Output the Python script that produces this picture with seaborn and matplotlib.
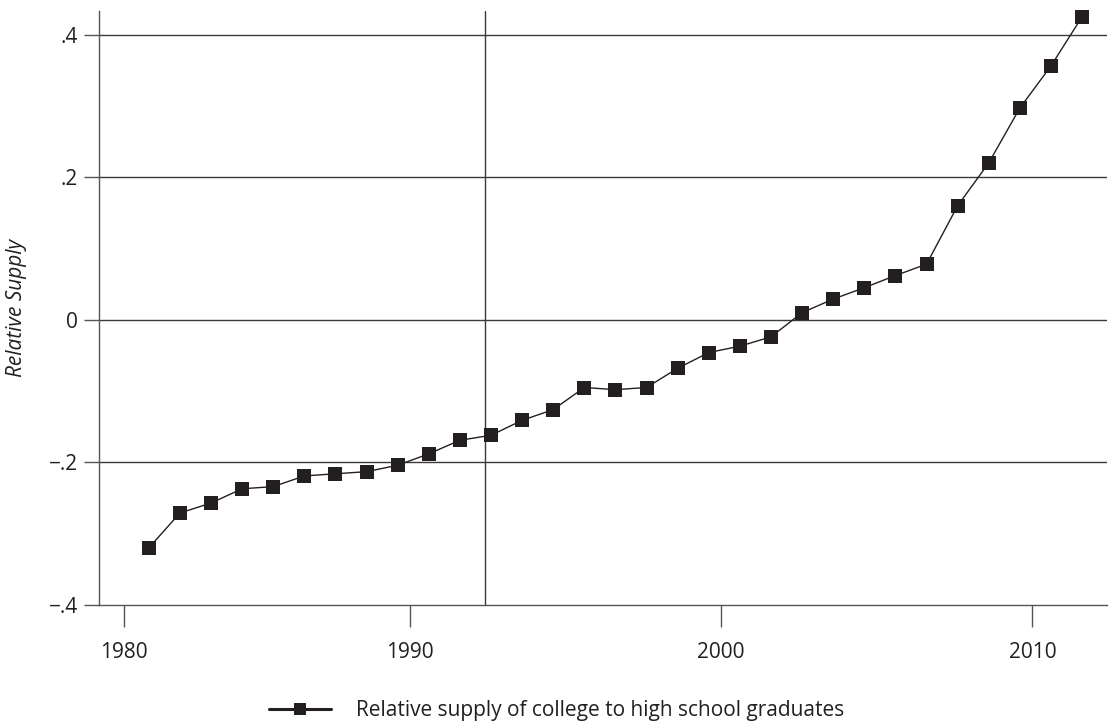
import numpy as np
import pandas as pd
import seaborn as sns
import matplotlib.pyplot as plt
from matplotlib.lines import Line2D

years = [1981, 1982, 1983, 1984, 1985, 1986, 1987, 1988, 1989, 1990,
         1991, 1992, 1993, 1994, 1995, 1996, 1997, 1998, 1999, 2000,
         2001, 2002, 2003, 2004, 2005, 2006, 2007, 2008, 2009, 2010, 2011]
rel_supply = [-0.320, -0.271, -0.257, -0.237, -0.234, -0.219, -0.216, -0.213, -0.204, -0.188,
              -0.169, -0.162, -0.141, -0.126, -0.095, -0.098, -0.095, -0.068, -0.046, -0.037,
              -0.024, 0.010, 0.029, 0.045, 0.062, 0.078, 0.160, 0.220, 0.297, 0.356, 0.425]
x_ticks = [1980, 1990, 2000, 2010]
y_ticks = [-0.4, -0.2, 0, 0.2, 0.4]
y_tick_labels = ['\u2212.4', '\u2212.2', '0', '.2', '.4']
series_name = 'Relative supply of college to high school graduates'
break_year = 1992.4

df = pd.DataFrame({'year': years, 'supply': rel_supply})
# observations sit mid-year on the axis
df['xpos'] = df['year'] + 0.6

sns.set_style('white')
plt.rcParams['font.family'] = ['Open Sans', 'DejaVu Sans']

ink = '#231f20'
fig = plt.figure(figsize=(11.13, 7.25), dpi=100)
ax = fig.add_axes([99 / 1113, 120 / 725, 1008 / 1113, 594 / 725])

for yv in y_ticks[1:]:
    ax.axhline(yv, color='#3a3a3a', lw=1.0, zorder=1)
ax.axvline(break_year, color='#3a3a3a', lw=1.0, zorder=1)

sns.lineplot(data=df, x='xpos', y='supply', ax=ax, color=ink, lw=1.0,
             marker='s', markersize=9.5, markeredgewidth=0, markerfacecolor=ink,
             zorder=3, legend=False, clip_on=False)

ax.set_xlim(1980, 2012.4)
ax.set_ylim(-0.4, 0.433)
ax.set_xticks([1980.8, 1990, 2000, 2010])
ax.set_xticklabels([str(t) for t in x_ticks])
ax.set_yticks(y_ticks)
ax.set_yticklabels(y_tick_labels)
ax.tick_params(axis='x', bottom=True, direction='out', length=16, width=1, color='#555555',
               pad=11, labelsize=15, labelcolor=ink)
ax.tick_params(axis='y', left=True, direction='out', length=11, width=1, color='#555555',
               pad=4, labelsize=15, labelcolor=ink)
ax.set_xlabel('')
ax.set_ylabel('Relative Supply', fontsize=15, fontstyle='italic', color=ink, labelpad=16)

for s in ['top', 'right']:
    ax.spines[s].set_visible(False)
for s in ['left', 'bottom']:
    ax.spines[s].set_color('#555555')
    ax.spines[s].set_linewidth(1.0)

handle = Line2D([], [], color=ink, lw=2.2, marker='s', markersize=9,
                markerfacecolor=ink, markeredgewidth=0)
fig.legend([handle], [series_name], loc='center', bbox_to_anchor=(0.5, 0.02),
           frameon=False, fontsize=15, handlelength=3.0, handletextpad=1.2,
           labelcolor=ink)

fig.savefig('out.png', dpi=100)
